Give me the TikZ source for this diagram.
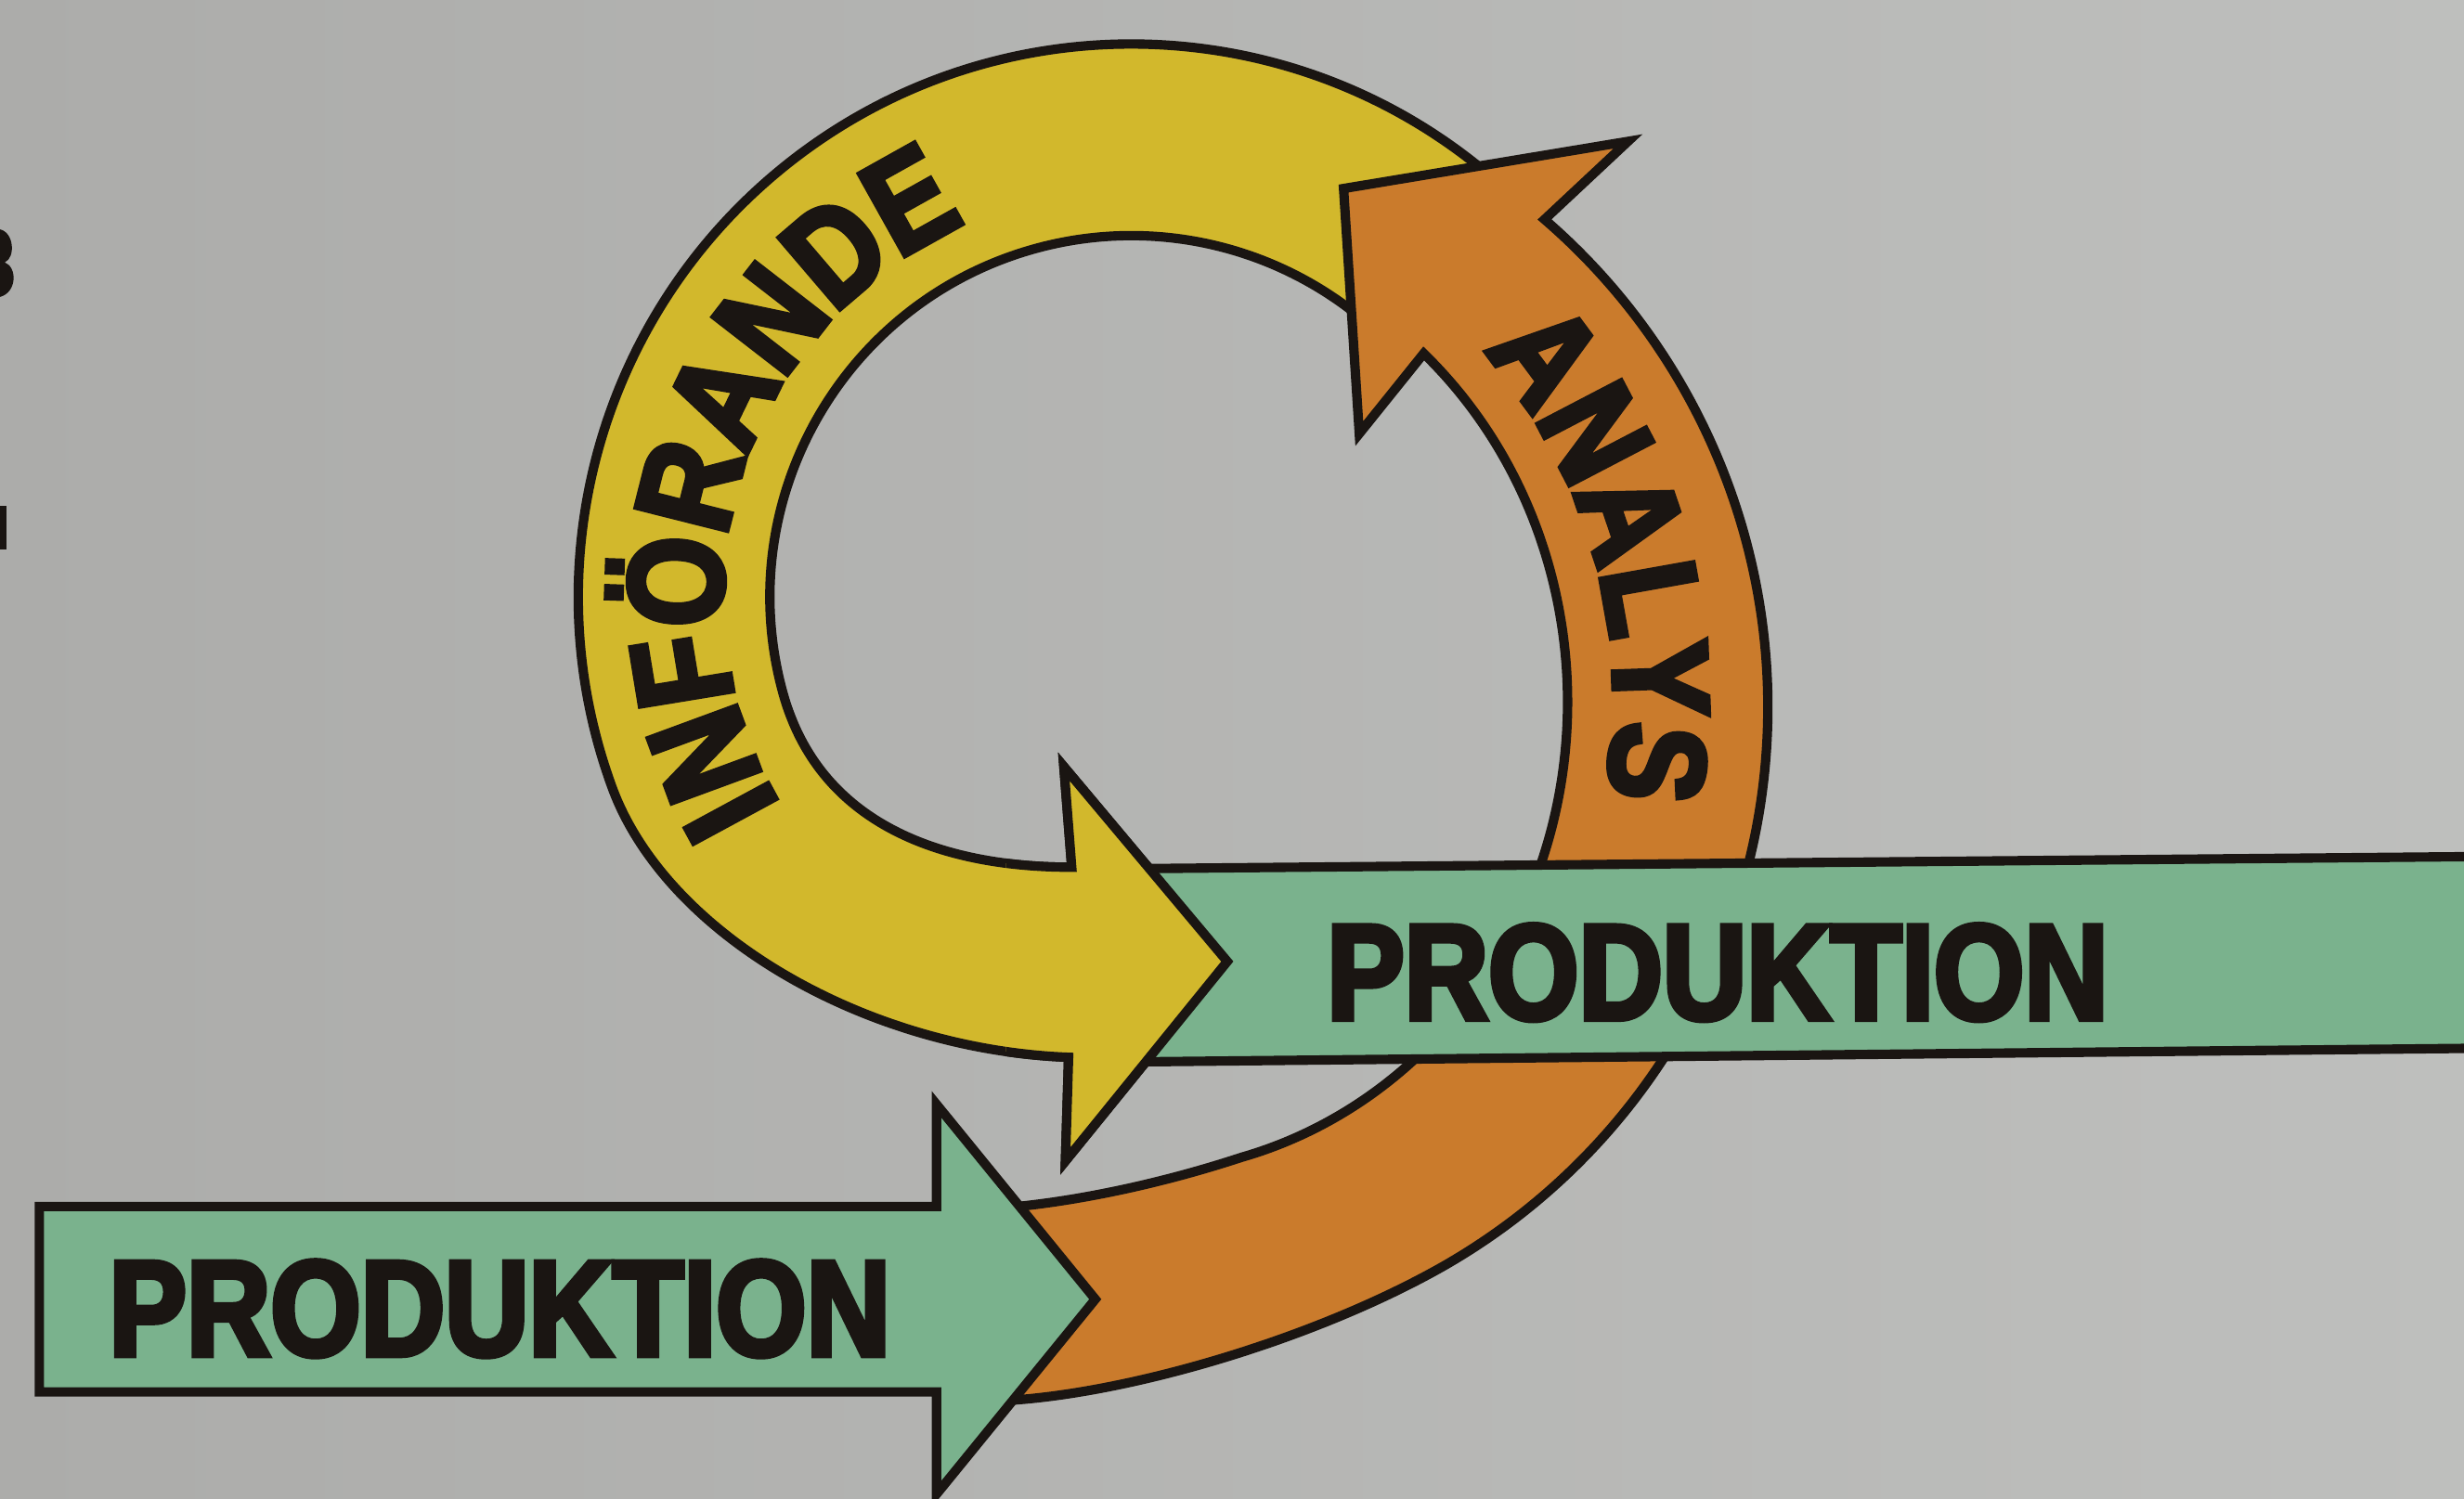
\documentclass[tikz,border=0pt]{standalone}
\usepackage{fontspec}
\newfontfamily\pfont{Liberation Sans}[FakeStretch=0.855, FakeBold=4]
\usetikzlibrary{decorations.text}
\definecolor{bgL}{HTML}{ACACAA}
\definecolor{bgR}{HTML}{BEBFBD}
\definecolor{yel}{HTML}{D2B82C}
\definecolor{ora}{HTML}{CA7B2C}
\definecolor{grn}{HTML}{7AB28D}
\definecolor{ink}{HTML}{1A1512}
\tikzset{
  band/.style={draw=ink, line width=1.7pt, line join=miter, miter limit=20},
  lbl/.style={font=\pfont\bfseries\fontsize{24.6pt}{26pt}\selectfont, text=ink, inner sep=0pt}
}
\def\ypath{(720,380) ++(320:352) arc[start angle=320, end angle=160, radius=352]
  .. controls (423,594) and (550,668) .. (680,673)
  -- (678,739) -- (781,612) -- (677,488) -- (682,552)
  .. controls (602,552) and (521,526.5) .. (497.8,439.5)
  arc[start angle=165, end angle=315, radius=230] -- cycle}
\begin{document}
\begin{tikzpicture}[x=0.01cm,y=-0.01cm]
\useasboundingbox (0,0) rectangle (1568,954);
\clip (0,0) rectangle (1568,954);
\shade[left color=bgL, right color=bgR] (0,0) rectangle (1568,954);
% edge fragments of a neighbouring page
\fill[ink] (0,146) .. controls (9,148) and (10,164) .. (3,167) .. controls (11,170) and (11,186) .. (0,189) -- cycle;
\fill[ink] (0,322) rectangle (4,350);
% yellow band (INFOERANDE)
\path[band, fill=yel] \ypath;
% orange band (ANALYS)
\path[band, fill=ora] (620,892) .. controls (700,893) and (833,855) .. (920,805.1)
  arc[start angle=60, end angle=-49.2, radius=410]
  -- (1036,90) -- (855,120) -- (865,276) -- (906,225)
  arc[start angle=-47.7, end angle=75, x radius=280, y radius=300]
  .. controls (732.5,755.6) and (670,768) .. (620,770) -- cycle;
% upper green band
\path[band, fill=grn] (715,553) -- (1600,545) -- (1600,667) -- (715,676) -- cycle;
% yellow arrow head again, on top of the green band
\begin{scope}
\clip (640,470) rectangle (800,748);
\path[band, fill=yel] \ypath;
\end{scope}
% lower green arrow
\path[band, fill=grn] (25,768) -- (596,768) -- (596,703) -- (697,827) -- (596,951) -- (596,886) -- (25,886) -- cycle;
% labels
\node[lbl] (p1) at (1093,619) {PRODUKTION};
\node[lbl] (p2) at (318,833) {PRODUKTION};
\path[decorate, decoration={text along path, text align=center,
  text={|\pfont\bfseries\fontsize{24.6pt}{26pt}\selectfont\color{ink}|INFÖRANDE}}]
  (720,380) ++(137.8:260) arc[start angle=137.8, end angle=257.8, radius=260];
\path[decorate, decoration={text along path, text align=center,
  text={|\pfont\bfseries\fontsize{24.6pt}{26pt}\selectfont\color{ink}|ANALYS}}]
  (690,445) ++(284.7:337) arc[start angle=284.7, end angle=404.7, radius=337];
\end{tikzpicture}
\end{document}
